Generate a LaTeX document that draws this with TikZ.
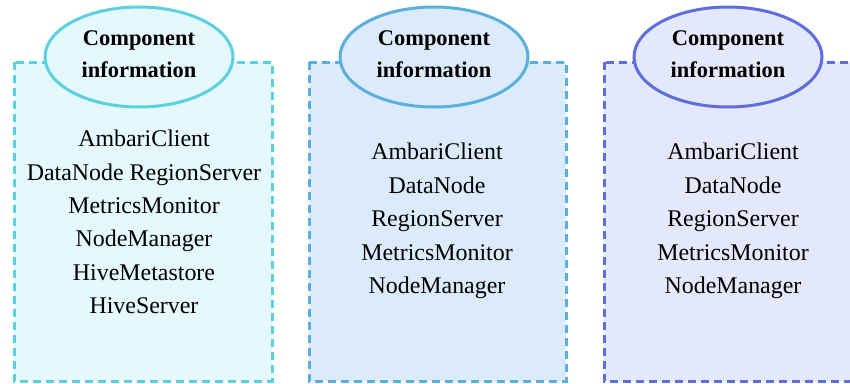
\documentclass[tikz,border=0pt]{standalone}
\usepackage{fontspec}
\setmainfont{Liberation Serif}
\usetikzlibrary{shapes.geometric}

\definecolor{lineA}{HTML}{5BD0E0}
\definecolor{fillA}{HTML}{E5F8FD}
\definecolor{lineB}{HTML}{5AAFDC}
\definecolor{fillB}{HTML}{DBEBFB}
\definecolor{lineC}{HTML}{5E6EDC}
\definecolor{fillC}{HTML}{E3E8FA}

\begin{document}
\begin{tikzpicture}[x=1bp, y=-1bp,
	group/.style={dash pattern=on 8bp off 5bp, line width=3bp},
	title/.style={ellipse, line width=3bp, minimum width=188bp, minimum height=100bp,
		inner sep=0pt, text depth=5bp, align=center, font=\bfseries\fontsize{22.5}{32}\selectfont},
	list/.style={align=center, inner sep=0pt, font=\fontsize{24}{33.5}\selectfont}]

% frame
\useasboundingbox (0,0) rectangle (850,383);
\clip (0,0) rectangle (850,383);

% dashed boxes
\draw[group, draw=lineA, fill=fillA] (14,62) rectangle (272,381);
\draw[group, draw=lineB, fill=fillB] (309,62) rectangle (566,381);
\draw[group, draw=lineC, fill=fillC] (604,62) rectangle (862,381);

% titles
\node[title, draw=lineA, fill=fillA] (infoA) at (139,57) {Component\\information};
\node[title, draw=lineB, fill=fillB] (infoB) at (434,57) {Component\\information};
\node[title, draw=lineC, fill=fillC] (infoC) at (728,57) {Component\\information};

% component lists
\node[list] (compA) at (144,222) {AmbariClient\\DataNode RegionServer\\MetricsMonitor\\NodeManager\\HiveMetastore\\HiveServer};
\node[list] (compB) at (437,221) {AmbariClient\\DataNode\\RegionServer\\MetricsMonitor\\NodeManager};
\node[list] (compC) at (733,221) {AmbariClient\\DataNode\\RegionServer\\MetricsMonitor\\NodeManager};

\end{tikzpicture}
\end{document}
